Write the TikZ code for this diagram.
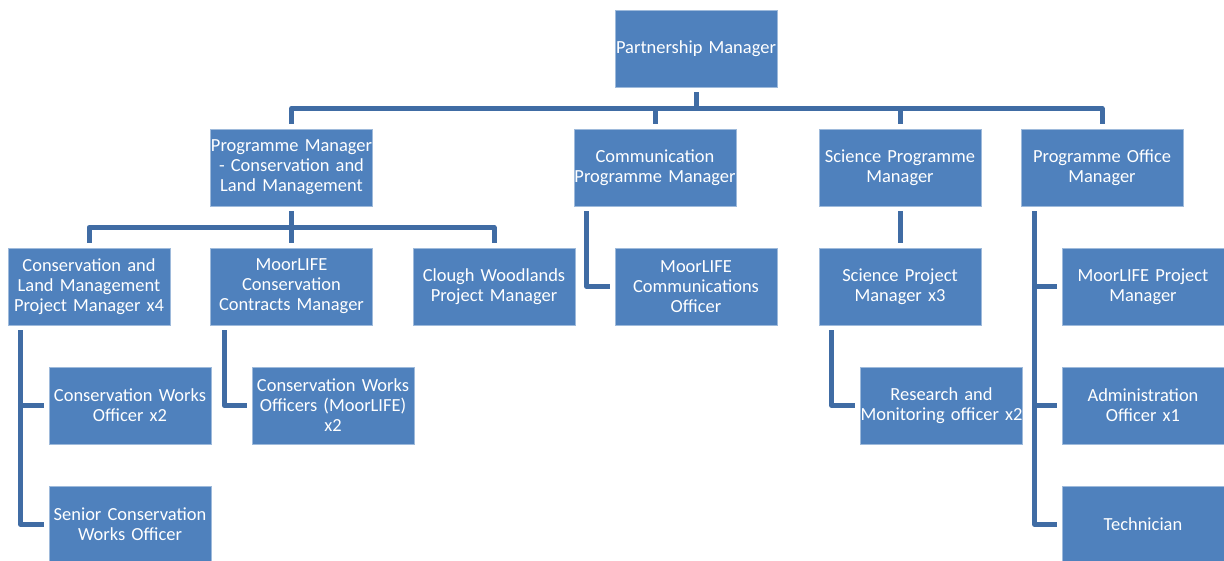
\documentclass[tikz,border=0pt]{standalone}
\usepackage{fontspec}
\setmainfont{Carlito}[WordSpace=0.7]
\usetikzlibrary{calc}
\definecolor{boxblue}{RGB}{79, 129, 189}
\definecolor{linkblue}{RGB}{64, 108, 164}

\begin{document}
\begin{tikzpicture}[x=0.2mm, y=-0.2mm,
    role/.style={fill=boxblue, draw=boxblue!55!white, line width=0.4pt, text=white,
        minimum width=32.4mm, minimum height=15.4mm, text width=32.4mm,
        inner xsep=0pt, align=center, font=\fontsize{10.5}{11.4}\selectfont},
    link/.style={linkblue, line width=1mm, line join=round,
        shorten <=1mm, shorten >=1mm}]
    \useasboundingbox (0,0) rectangle (1224,561);

    % Top
    \node[role] (pm) at (696,48.5) {Partnership Manager};

    % Programme managers
    \node[role] (clm) at (291.5,167.5) {Programme Manager\\- Conservation and\\Land Management};
    \node[role] (comm) at (655,167.5) {Communication\\Programme Manager};
    \node[role] (sci) at (900,167.5) {Science Programme\\Manager};
    \node[role] (office) at (1102,167.5) {Programme Office\\Manager};

    % Third row
    \node[role] (clmpm) at (89,286.5) {Conservation and\\Land Management\\Project Manager x4};
    \node[role] (contracts) at (291.5,286.5) {MoorLIFE\\Conservation\\Contracts Manager};
    \node[role] (clough) at (494,286.5) {Clough Woodlands\\Project Manager};
    \node[role] (commoff) at (696,286.5) {MoorLIFE\\Communications\\Officer};
    \node[role] (sciproj) at (900,286.5) {Science Project\\Manager x3};
    \node[role] (mlpm) at (1143,286.5) {MoorLIFE Project\\Manager};

    % Officers
    \node[role] (cwo) at (130,405.5) {Conservation Works\\Officer x2};
    \node[role] (cwoml) at (333,405.5) {Conservation Works\\Officers (MoorLIFE)\\x2};
    \node[role] (research) at (941.5,405.5) {Research and\\Monitoring officer x2};
    \node[role] (admin) at (1143,405.5) {Administration\\Officer x1};
    \node[role] (scwo) at (130,524.5) {Senior Conservation\\Works Officer};
    \node[role] (tech) at (1143,524.5) {Technician};

    % Top bus
    \coordinate (bus1) at ($(pm.south)+(0,21)$);
    \draw[link, shorten >=0pt] (pm.south) -- (bus1);
    \draw[link] (clm.north) |- (bus1) -| (office.north);
    \draw[link, shorten >=0pt] (comm.north) -- (comm.north |- bus1);
    \draw[link, shorten >=0pt] (sci.north) -- (sci.north |- bus1);

    % Conservation bus
    \coordinate (bus2) at ($(clm.south)+(0,21)$);
    \draw[link] (clm.south) -- (contracts.north);
    \draw[link] (clmpm.north) |- (bus2) -| (clough.north);
    \draw[link] (sci.south) -- (sciproj.north);

    % Side links
    \draw[link] ($(clmpm.south west)+(13,0)$) |- (cwo.west);
    \draw[link] ($(clmpm.south west)+(13,0)$) |- (scwo.west);
    \draw[link] ($(contracts.south west)+(14,0)$) |- (cwoml.west);
    \draw[link] ($(comm.south west)+(13,0)$) |- (commoff.west);
    \draw[link] ($(sciproj.south west)+(13,0)$) |- (research.west);
    \draw[link] ($(office.south west)+(14,0)$) |- (mlpm.west);
    \draw[link] ($(office.south west)+(14,0)$) |- (admin.west);
    \draw[link] ($(office.south west)+(14,0)$) |- (tech.west);
\end{tikzpicture}
\end{document}
